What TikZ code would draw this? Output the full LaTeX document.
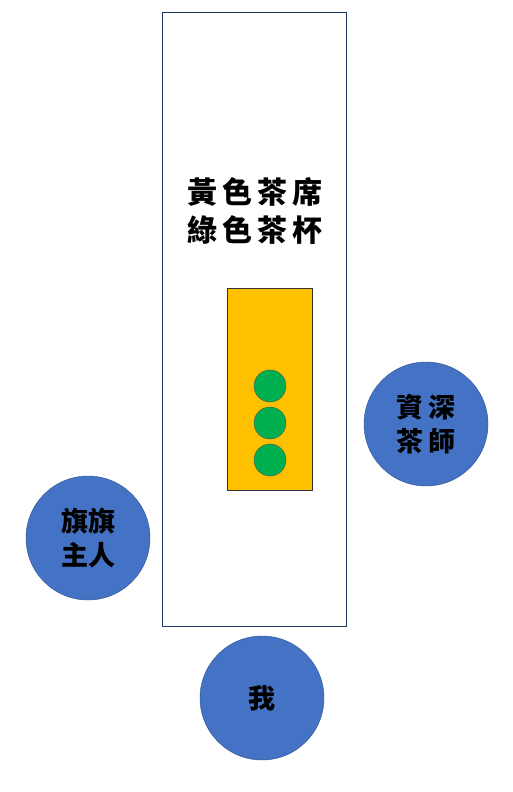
\documentclass[tikz,border=0pt]{standalone}
\usepackage{fontspec}
\newfontfamily\cjk{Noto Sans CJK TC Black}
\usepackage{tikz}
\definecolor{seatblue}{HTML}{4472C4}
\definecolor{seatline}{HTML}{2F528F}
\definecolor{clothgold}{HTML}{FFC000}
\definecolor{cupgreen}{HTML}{00B050}
\definecolor{tableline}{HTML}{1F3864}

\tikzset{
  seat/.style={circle, draw=seatline, fill=seatblue, minimum size=124pt, inner sep=0pt, align=center, font=\cjk\fontsize{27}{34}\selectfont},
  cup/.style={circle, draw=black!70, fill=cupgreen, minimum size=32pt, inner sep=0pt}
}

\begin{document}
\begin{tikzpicture}[x=1pt, y=-1pt]
  \useasboundingbox (0,0) rectangle (513,792);

  % the long table
  \coordinate(t1) at (162,12);
  \coordinate(t2) at (346,626);
  \draw[tableline, line width=0.8pt, fill=white] (t1) rectangle (t2);

  % the yellow tea cloth
  \coordinate(c1) at (227,288);
  \coordinate(c2) at (312,490);
  \draw[black!80, line width=0.6pt, fill=clothgold] (c1) rectangle (c2);

  % title on the table
  \node(title) at (255,211) [align=center, font=\cjk\fontsize{30}{38}\selectfont] {黃\,色\,茶\,席\\綠\,色\,茶\,杯};

  % three tea cups
  \node[cup] (cup1) at (270,386) {};
  \node[cup] (cup2) at (270,423) {};
  \node[cup] (cup3) at (270,460) {};

  % the seats
  \node[seat] (host) at (88,538) {旗旗\\主人};
  \node[seat] (master) at (426,424) {資\,深\\茶\,師};
  \node[seat] (me) at (262,698) {\raisebox{-3pt}{我}};
\end{tikzpicture}
\end{document}
